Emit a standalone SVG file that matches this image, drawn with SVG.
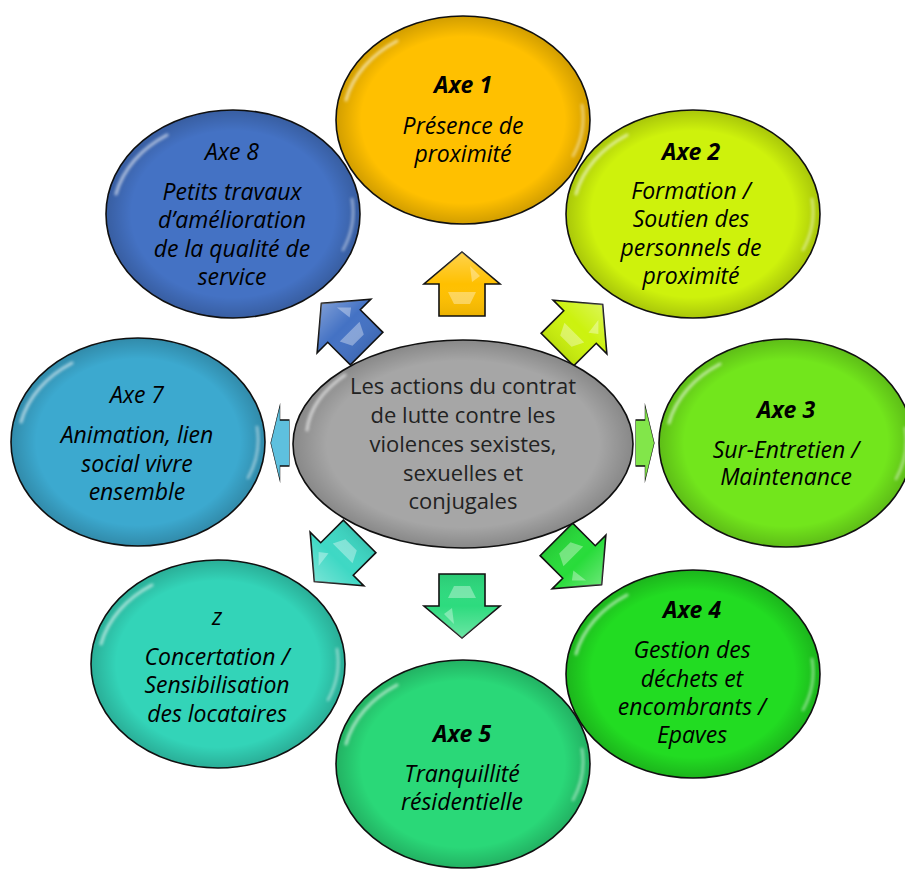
<svg xmlns="http://www.w3.org/2000/svg" xmlns:xlink="http://www.w3.org/1999/xlink" width="905" height="870" viewBox="0 0 905 870">
<style>
.node{stroke:#111;stroke-width:1.6}
.t{font-family:"Open Sans","Noto Sans",sans-serif;font-size:23px;font-style:italic;fill:#000;text-anchor:middle}
.b{font-weight:bold}
.c{font-family:"Open Sans","Noto Sans",sans-serif;font-size:22px;fill:#222;text-anchor:middle}
.arr{stroke:#111;stroke-width:1.6;stroke-linejoin:miter}
.hl{fill:none;stroke:#fff;stroke-linecap:round}
</style>
<defs>
<radialGradient id="shade" cx="0.5" cy="0.5" r="0.5">
<stop offset="0.8" stop-color="#000" stop-opacity="0"/>
<stop offset="1" stop-color="#000" stop-opacity="0.18"/>
</radialGradient>
<linearGradient id="agloss" x1="0" y1="0" x2="0" y2="1">
<stop offset="0" stop-color="#fff" stop-opacity="0.3"/>
<stop offset="0.5" stop-color="#fff" stop-opacity="0"/>
<stop offset="1" stop-color="#000" stop-opacity="0.08"/>
</linearGradient>
<filter id="blur" x="-20%" y="-20%" width="140%" height="140%"><feGaussianBlur stdDeviation="1.6"/></filter>
<g id="gloss">
<ellipse rx="127" ry="104" fill="url(#shade)"/>
<path class="hl" d="M -117 -20 A 119 95 0 0 1 -66 -79" stroke-width="3" opacity="0.6" filter="url(#blur)"/>
<path class="hl" d="M 119 -15 A 119 95 0 0 1 110 36" stroke-width="2.5" opacity="0.5" filter="url(#blur)"/>
</g>
<path id="arrow" d="M0,-32 L38,0 L23,0 L23,32 L-23,32 L-23,0 L-38,0 Z"/>
<path id="arrowHl" d="M-14,8 L14,8 L8,20 L-8,20 Z M8,-18 L18,-8 L10,-2 Z"/>
</defs>
<rect width="905" height="870" fill="#fff"/>

<g id="connectors">
<g transform="translate(462,284)"><use href="#arrow" class="arr" fill="#FFC000"/><use href="#arrow" fill="url(#agloss)"/><use href="#arrowHl" fill="#fff" opacity="0.35"/></g>
<g transform="translate(580,327) rotate(45)"><use href="#arrow" class="arr" fill="#CCF20E"/><use href="#arrow" fill="url(#agloss)"/><use href="#arrowHl" fill="#fff" opacity="0.35"/></g>
<g transform="translate(645,443) rotate(90) scale(1,0.29)"><use href="#arrow" class="arr" fill="#82E64A" style="vector-effect:non-scaling-stroke"/></g>
<g transform="translate(579,562) rotate(135)"><use href="#arrow" class="arr" fill="#28DC3A"/><use href="#arrow" fill="url(#agloss)"/><use href="#arrowHl" fill="#fff" opacity="0.35"/></g>
<g transform="translate(462,606) rotate(180)"><use href="#arrow" class="arr" fill="#2DDB7E"/><use href="#arrow" fill="url(#agloss)"/><use href="#arrowHl" fill="#fff" opacity="0.35"/></g>
<g transform="translate(337,559) rotate(-135)"><use href="#arrow" class="arr" fill="#3ED8C4"/><use href="#arrow" fill="url(#agloss)"/><use href="#arrowHl" fill="#fff" opacity="0.35"/></g>
<g transform="translate(280,443) rotate(-90) scale(1,0.29)"><use href="#arrow" class="arr" fill="#5EC0DE" style="vector-effect:non-scaling-stroke"/></g>
<g transform="translate(344,326) rotate(-45)"><use href="#arrow" class="arr" fill="#4472C4"/><use href="#arrow" fill="url(#agloss)"/><use href="#arrowHl" fill="#fff" opacity="0.35"/></g>
</g>

<g id="center">
<ellipse class="node" cx="463" cy="444" rx="170" ry="104" fill="#A6A6A6"/>
<ellipse cx="463" cy="444" rx="170" ry="104" fill="url(#shade)"/>
<path class="hl" d="M 307 430 A 160 95 0 0 1 345 375" stroke-width="3" opacity="0.6" filter="url(#blur)"/>
<text class="c" x="463" y="394">Les actions du contrat</text>
<text class="c" x="463" y="423">de lutte contre les</text>
<text class="c" x="463" y="452">violences sexistes,</text>
<text class="c" x="463" y="481">sexuelles et</text>
<text class="c" x="463" y="509">conjugales</text>
</g>

<g id="axe1">
<ellipse class="node" cx="463" cy="120" rx="127" ry="104" fill="#FFC000"/>
<use href="#gloss" transform="translate(463,120)"/>
<text class="t b" x="463" y="93">Axe 1</text>
<text class="t" x="463" y="134">Présence de</text>
<text class="t" x="463" y="162">proximité</text>
</g>

<g id="axe2">
<ellipse class="node" cx="693" cy="214" rx="127" ry="104" fill="#CEF20C"/>
<use href="#gloss" transform="translate(693,214)"/>
<text class="t b" x="691" y="160">Axe 2</text>
<text class="t" x="691" y="199">Formation /</text>
<text class="t" x="691" y="227">Soutien des</text>
<text class="t" x="691" y="256">personnels de</text>
<text class="t" x="691" y="284">proximité</text>
</g>

<g id="axe3">
<ellipse class="node" cx="786" cy="443" rx="127" ry="104" fill="#72E61C"/>
<use href="#gloss" transform="translate(786,443)"/>
<text class="t b" x="786" y="418">Axe 3</text>
<text class="t" x="786" y="458">Sur-Entretien /</text>
<text class="t" x="786" y="485">Maintenance</text>
</g>

<g id="axe4">
<ellipse class="node" cx="693" cy="674" rx="127" ry="104" fill="#22DC22"/>
<use href="#gloss" transform="translate(693,674)"/>
<text class="t b" x="692" y="618">Axe 4</text>
<text class="t" x="692" y="658">Gestion des</text>
<text class="t" x="692" y="687">déchets et</text>
<text class="t" x="692" y="715">encombrants /</text>
<text class="t" x="692" y="743">Epaves</text>
</g>

<g id="axe5">
<ellipse class="node" cx="463" cy="764" rx="127" ry="104" fill="#2AD878"/>
<use href="#gloss" transform="translate(463,764)"/>
<text class="t b" x="462" y="742">Axe 5</text>
<text class="t" x="462" y="782">Tranquillité</text>
<text class="t" x="462" y="810">résidentielle</text>
</g>

<g id="axe6">
<ellipse class="node" cx="218" cy="664" rx="127" ry="104" fill="#33D4B8"/>
<use href="#gloss" transform="translate(218,664)"/>
<text class="t" x="217" y="625">z</text>
<text class="t" x="217" y="665">Concertation /</text>
<text class="t" x="217" y="693">Sensibilisation</text>
<text class="t" x="217" y="722">des locataires</text>
</g>

<g id="axe7">
<ellipse class="node" cx="138" cy="442" rx="127" ry="104" fill="#3CA9CF"/>
<use href="#gloss" transform="translate(138,442)"/>
<text class="t" x="137" y="403">Axe 7</text>
<text class="t" x="137" y="443">Animation, lien</text>
<text class="t" x="137" y="472">social vivre</text>
<text class="t" x="137" y="500">ensemble</text>
</g>

<g id="axe8">
<ellipse class="node" cx="233" cy="214" rx="127" ry="104" fill="#4472C4"/>
<use href="#gloss" transform="translate(233,214)"/>
<text class="t" x="232" y="160">Axe 8</text>
<text class="t" x="232" y="200">Petits travaux</text>
<text class="t" x="232" y="228">d’amélioration</text>
<text class="t" x="232" y="257">de la qualité de</text>
<text class="t" x="232" y="285">service</text>
</g>
</svg>
